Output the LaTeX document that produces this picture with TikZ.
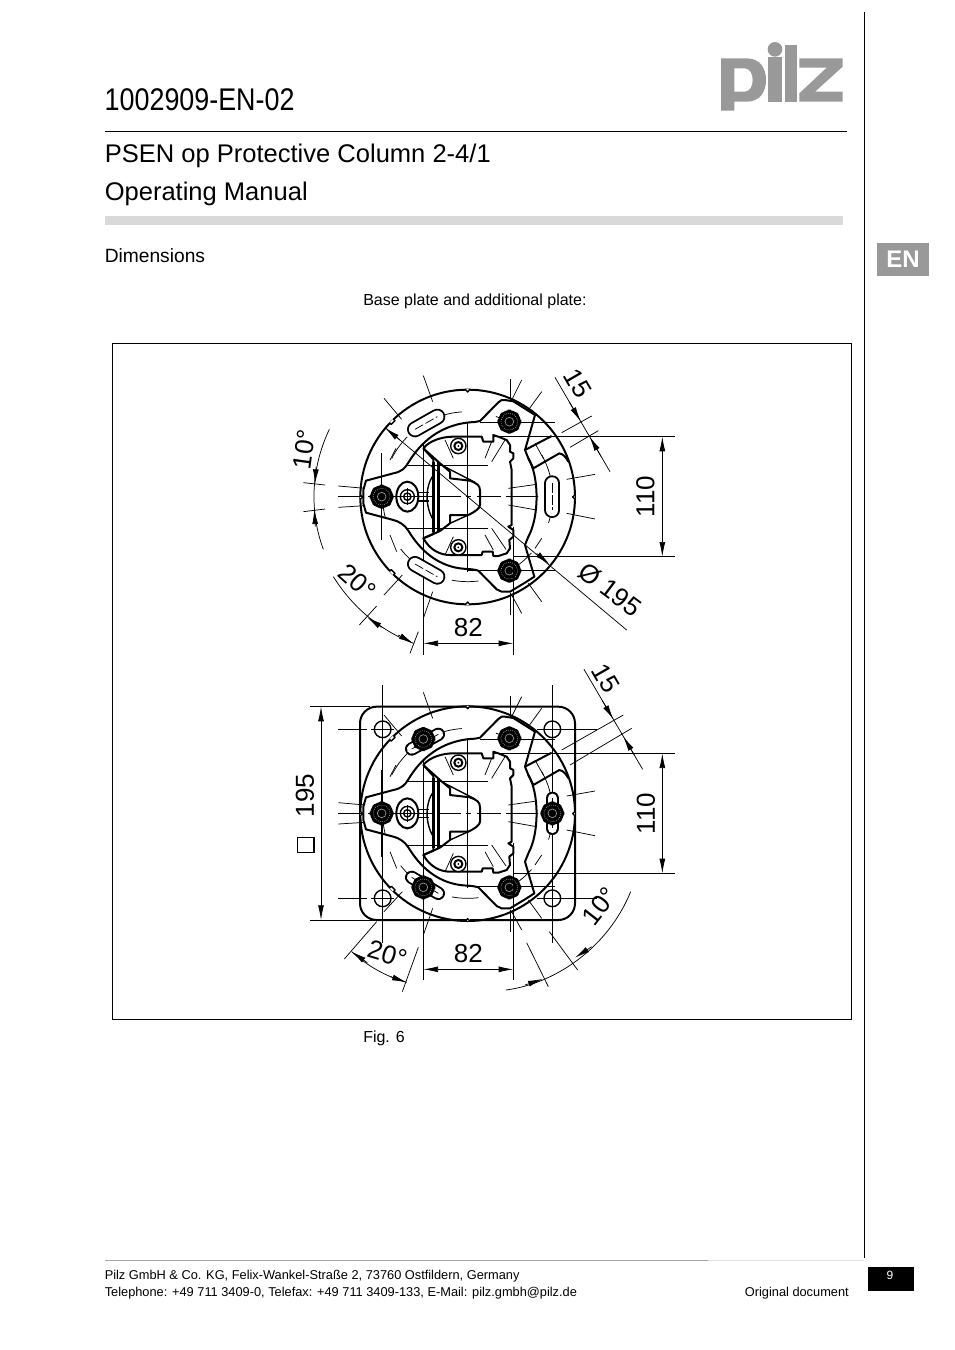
\documentclass[tikz,border=0pt]{standalone}
\usepackage{fontspec}
\setmainfont{Liberation Sans}
\usetikzlibrary{arrows.meta}
\definecolor{logogray}{HTML}{999999}
\definecolor{bargray}{HTML}{D9D9D9}
\tikzset{
  thickl/.style={line width=1.5pt,line join=round},
  medl/.style={line width=1.05pt,line join=round},
  thinl/.style={line width=.55pt},
  dashl/.style={line width=.6pt,dash pattern=on 18pt off 4pt on 4pt off 4pt},
  tip/.style={thinl,-{Latex[length=11pt,width=4.4pt]}},
  dim/.style={thinl,{Latex[length=11pt,width=4.4pt]}-{Latex[length=11pt,width=4.4pt]}},
  dimtext/.style={font=\fontsize{19.5pt}{21pt}\selectfont,inner sep=0pt},
  body/.style={inner sep=0pt,anchor=base west},
}
\newcommand\pilzbolt[2]{%
  \fill[black,rounded corners=5pt] (#1-36,#2-14) -- (#1-14,#2-36) -- (#1+14,#2-36) -- (#1+36,#2-14) -- (#1+36,#2+14) -- (#1+14,#2+36) -- (#1-14,#2+36) -- (#1-36,#2+14) -- cycle;
  \draw[gray!60,line width=.5pt,densely dotted] (#1,#2) circle (25);
  \draw[gray!80,line width=.5pt] (#1,#2) circle (13);
  \fill[black] (#1,#2) circle (4);
}
\newcommand\pilzscrew[2]{%
  \draw[medl,fill=white] (#1,#2) circle (23);
  \draw[line width=1.5pt] (#1,#2) circle (12);
  \fill[black] (#1,#2) circle (3);
}
\newcommand\pilzslot[5]{%
  \draw[line width=#5,line cap=round,black] (#1,#2) -- (#3,#4);
  \draw[line width=#5-2.8pt,line cap=round,white] (#1,#2) -- (#3,#4);
  \draw[thinl,dash pattern=on 7pt off 2pt] (#1,#2) -- (#3,#4);
}
\newcommand\pilzcore{%
 \begin{scope}[shift={(-565,-410)}]
  % outer ring
  \draw[thickl] (563,411) circle (322);
  \foreach \a in {0,90,180,270}{
    \begin{scope}[shift={(563,411)},rotate=\a]
      \fill[white] (323,-6) rectangle (317,6);
      \draw[medl] (323,-7) -- (315,0) -- (323,7);
    \end{scope}}
  \foreach \a in {135,225}{
    \begin{scope}[shift={(563,411)},rotate=\a]
      \fill[white] (324,-7) rectangle (316,7);
      \draw[medl] (323,-8) -- (316,-8) -- (316,8) -- (323,8);
    \end{scope}}
  % hidden circle
  \draw[thinl,dash pattern=on 20pt off 26pt] (563,410) circle (255);
  % centre lines
  \draw[dashl] (175,410) -- (775,410);
  \draw[thinl] (563,185) -- (563,635);
  \draw[thinl] (175,410) -- (250,410);
  \draw[thinl,dash pattern=on 18pt off 5pt] (380,315) -- (625,315);
  \draw[thinl,dash pattern=on 18pt off 5pt] (380,505) -- (625,505);
  \draw[thinl] (305,280) -- (305,540);
  \draw[thinl] (600,188) -- (825,188);
  \draw[thinl] (560,630) -- (825,630);
  % mounting plate
  \draw[thickl] (258,362) -- (340,340) .. controls (365,335) and (375,325) .. (385,308)
     .. controls (420,250) and (480,190) .. (585,186) -- (600,183) -- (655,127)
     .. controls (662,120) and (668,118) .. (675,120) -- (700,124) -- (765,165)
     -- (735,270) -- (745,295) .. controls (778,350) and (778,470) .. (745,530)
     -- (735,555) -- (763,650) -- (735,668) -- (690,695) -- (665,695) -- (650,688)
     -- (595,632) .. controls (570,625) and (560,628) .. (540,625)
     .. controls (470,615) and (420,570) .. (385,512)
     .. controls (375,495) and (355,483) .. (340,480) -- (258,458) -- (250,430) -- (250,390) -- cycle;
  % side bracket
  \draw[thickl] (735,270) -- (815,228);
  \draw[thickl] (745,295) -- (760,325) -- (838,280) .. controls (850,282) and (858,292) .. (865,305);
  \draw[thinl] (765,250) -- (790,295);
  % device housing
  \draw[thickl,fill=white] (430,265) .. controls (450,240) and (490,230) .. (520,230) -- (605,230)
     -- (610,245) -- (640,245) -- (640,225) -- (655,230) -- (680,240) -- (690,255)
     -- (690,275) -- (700,280) -- (700,295) -- (690,305) -- (695,330) -- (695,495)
     -- (685,500) -- (700,510) -- (700,530) -- (688,540) -- (690,565) -- (680,580)
     -- (655,588) -- (640,588) -- (638,575) -- (608,575) -- (605,585) -- (510,585)
     .. controls (480,585) and (450,570) .. (430,535) -- (460,522)
     -- (460,298) -- cycle;
  \draw[thinl] (380,315) -- (625,315);
  \draw[thinl] (380,505) -- (625,505);
  \draw[thinl] (430,250) -- (430,535);
  \draw[dashl] (470,410) -- (690,410);
  \draw[thinl] (563,230) -- (563,590);
  % housing inner
  \draw[medl] (460,345) .. controls (435,380) and (435,440) .. (460,480);
  \draw[thickl] (430,265) -- (480,310);
  \draw[thickl] (430,535) -- (480,513);
  \draw[line width=1.8pt] (460,305) -- (460,515);
  \draw[line width=1.8pt] (475,305) -- (475,515);
  \draw[thickl] (480,310) -- (510,335) -- (510,355) -- (570,362)
     .. controls (590,370) and (600,375) .. (600,392) -- (600,435)
     .. controls (600,445) and (585,455) .. (565,465) -- (510,465) -- (510,490) -- (480,513);
  \draw[medl] (490,318) -- (585,367);
  \draw[medl] (510,490) -- (565,465);
  % radial ticks
  \foreach \x/\y/\u/\v in {430/47/458/125,312/115/365/178,690/57/690/125,725/60/695/120,
     785/95/745/150,860/358/945/343,860/460/945/477,690/700/690/765,725/760/695/705,
     785/725/745/670,312/705/367/645,430/775/458/695,175/378/255/385,175/442/255/437,
     495/240/520/295,635/245/615/295,675/240/635/305,495/585/520/530,615/525/640/570,
     635/505/678/568,685/385/770/373,685/435/770/450,690/410/775/410,
     330/300/348/265,350/575/330/525,785/535/765/565}{
    \draw[thinl] (\x,\y) -- (\u,\v);}
  % fasteners
  \pilzbolt{688}{185}
  \pilzbolt{688}{632}
  \pilzbolt{305}{410}
  \pilzscrew{535}{258}
  \pilzscrew{535}{562}
  \draw[thickl,fill=white] (382,410) ellipse (33 and 45);
  \draw[medl] (382,410) circle (21);
  \draw[medl] (382,410) circle (11);
  \draw[thinl] (345,410) -- (430,410);
  \draw[medl] (412,398) -- (447,398);
  \draw[medl] (412,423) -- (447,423);
  \draw[thinl] (382,385) -- (382,435);
  \draw[thinl] (430,265) -- (430,775);
 \end{scope}%
}
\begin{document}
\begin{tikzpicture}[x=.75pt,y=-.75pt]
\useasboundingbox (0,0) rectangle (954,1350);
\fill[white] (0,0) rectangle (954,1350);
% page furniture
\draw[line width=1.1pt] (864.5,12) -- (864.5,1258);
\draw[line width=.8pt] (105,131.5) -- (847,131.5);
\fill[bargray] (105,216) rectangle (843,225);
\draw[line width=.5pt,gray!70] (105,1260.5) -- (708,1260.5);
\draw[line width=.5pt,gray!25] (708,1260.5) -- (864,1260.5);
\node[body,xscale=.858,font=\fontsize{23.5pt}{26pt}\selectfont] (title) at (104.5,110) {1002909-EN-02};
\node[body,font=\fontsize{19.15pt}{24pt}\selectfont] (prod) at (104.5,162) {PSEN op Protective Column 2-4/1};
\node[body,font=\fontsize{19.15pt}{24pt}\selectfont] (manual) at (104.5,200) {Operating Manual};
\node[body,font=\fontsize{14.4pt}{18pt}\selectfont] (dims) at (104.5,262) {Dimensions};
\node[body,font=\fontsize{12pt}{15pt}\selectfont] (baseplate) at (363,305) {Base plate and additional plate:};
\node[body,font=\fontsize{12pt}{15pt}\selectfont] (fig) at (363,1042) {Fig. 6};
\node[body,font=\fontsize{9.6pt}{12pt}\selectfont] (foot1) at (104.5,1279) {Pilz GmbH \& Co. KG, Felix-Wankel-Straße 2, 73760 Ostfildern, Germany};
\node[body,font=\fontsize{9.6pt}{12pt}\selectfont] (foot2) at (104.5,1296) {Telephone: +49 711 3409-0, Telefax: +49 711 3409-133, E-Mail: pilz.gmbh@pilz.de};
\node[inner sep=0pt,anchor=base east,font=\fontsize{9.6pt}{12pt}\selectfont] (orig) at (849,1296) {Original document};
\fill[black] (868,1267) rectangle (914,1291);
\node[inner sep=0pt,anchor=base,text=white,font=\fontsize{9pt}{11pt}\selectfont] (pageno) at (890,1279) {9};
\fill[logogray] (877,243) rectangle (929,276);
\node[inner sep=0pt,text=white,font=\bfseries\fontsize{18pt}{22pt}\selectfont] (en) at (903,259.5) {EN};
% logo
\begin{scope}[shift={(700,20)},x=.25pt,y=-.25pt]
  \fill[logogray,even odd rule] (63,272) -- (63,115) -- (140,115) .. controls (180,115) and (198,145) .. (198,180)
    .. controls (198,215) and (180,245) .. (140,245) -- (103,245) -- (103,272) -- cycle
    (103,145) -- (103,215) -- (135,215) .. controls (150,215) and (158,198) .. (158,180)
    .. controls (158,162) and (150,145) .. (135,145) -- cycle;
  \fill[logogray] (205,112) rectangle (245,245);
  \fill[logogray] (225,88) circle (22);
  \fill[logogray] (255,75) rectangle (291,245);
  \fill[logogray] (298,115) -- (428,115) -- (428,140) -- (345,215) -- (428,215) -- (428,245)
    -- (298,245) -- (298,220) -- (380,143) -- (298,143) -- cycle;
\end{scope}
% frame
\draw[line width=.6pt] (112.5,343.5) rectangle (851.5,1019.5);
% TOP VIEW
\begin{scope}[shift={(280,360)},x=.25pt,y=-.25pt]
  \begin{scope}[shift={(565,410)}]\pilzcore\end{scope}
  \pilzslot{405}{208}{472}{170}{12pt}
  \pilzslot{405}{612}{472}{650}{12pt}
  \pilzslot{817}{370}{817}{450}{12pt}
  % 15
  \draw[thinl] (825,52) -- (990,335);
  \draw[tip] (868,126) -- (902,184);
  \draw[tip] (963,289) -- (929,230);
  \draw[thinl] (845,218) -- (935,168);
  \draw[thinl] (870,262) -- (955,212);
  \node[dimtext,rotate=-60] (t15a) at (893,70) {15};
  % 110
  \draw[thinl] (640,230) -- (1185,230);
  \draw[thinl] (700,590) -- (1185,590);
  \draw[dim] (1147,230) -- (1147,590);
  \node[dimtext,rotate=90] (t110a) at (1096,410) {110};
  % 82
  \draw[thinl] (430,775) -- (430,885);
  \draw[thinl] (700,500) -- (700,885);
  \draw[dim] (430,850) -- (700,850);
  \node[dimtext] (t82a) at (565,802) {82};
  % dia 195
  \draw[thinl] (318,205) -- (1040,810);
  \draw[tip] (360,240) -- (316,204);
  \draw[tip] (770,580) -- (808,612);
  \node[dimtext,rotate=-37] (tdia) at (990,688) {Ø 195};
  % 10 deg
  \draw[thinl] (148,208) .. controls (90,330) and (90,460) .. (130,568);
  \draw[tip] (108,320) -- (105,372);
  \draw[tip] (106,500) -- (103,448);
  \draw[thinl] (70,368) -- (135,375);
  \draw[thinl] (70,455) -- (135,447);
  \node[dimtext,rotate=82] (t10a) at (72,268) {10°};
  % 20 deg
  \draw[thinl] (160,650) .. controls (220,745) and (300,810) .. (400,850);
  \draw[tip] (305,802) -- (262,772);
  \draw[tip] (355,825) -- (400,850);
  \draw[thinl] (238,795) -- (290,738);
  \draw[thinl] (390,880) -- (415,815);
  \node[dimtext,rotate=-42] (t20a) at (232,665) {20°};
\end{scope}
% BOTTOM VIEW
\begin{scope}[shift={(280,660)},x=.25pt,y=-.25pt]
  \draw[thickl] (240,190) arc (180:270:50) -- (835,140) arc (270:360:50) -- (885,730) arc (0:90:50) -- (290,780) arc (90:180:50) -- cycle;
  \foreach \x in {308,817}{\draw[thinl] (\x,75) -- (\x,850);}
  \foreach \y in {208,715}{\draw[thinl] (175,\y) -- (260,\y);\draw[thinl] (770,\y) -- (950,\y);}
  \begin{scope}[shift={(565,460)}]\pilzcore\end{scope}
  \foreach \x/\y in {308/208,817/208,308/715,817/715}{
    \draw[medl] (\x,\y) circle (25);
    \draw[thinl] (\x-34,\y) -- (\x+34,\y);
    \draw[thinl] (\x,\y-34) -- (\x,\y+34);}
  \pilzslot{395}{267}{475}{223}{10pt}
  \pilzslot{395}{652}{475}{700}{10pt}
  \pilzslot{817}{415}{817}{505}{10pt}
  \pilzbolt{430}{237}
  \pilzbolt{430}{682}
  \pilzbolt{817}{460}
  % square 195
  \draw[thinl] (90,140) -- (270,140);
  \draw[thinl] (90,780) -- (290,780);
  \draw[dim] (123,140) -- (123,780);
  \node[dimtext,rotate=90] (t195) at (75,407) {195};
  \draw[line width=1pt] (52,533) rectangle (102,578);
  % 15
  \draw[thinl] (912,28) -- (1088,328);
  \draw[tip] (967,122) -- (1000,178);
  \draw[tip] (1063,285) -- (1030,230);
  \draw[thinl] (845,270) -- (1030,165);
  \draw[thinl] (870,315) -- (1055,205);
  \node[dimtext,rotate=-60] (t15b) at (977,55) {15};
  % 110
  \draw[thinl] (640,280) -- (1185,280);
  \draw[thinl] (700,640) -- (1185,640);
  \draw[dim] (1147,280) -- (1147,640);
  \node[dimtext,rotate=90] (t110b) at (1098,460) {110};
  % 82
  \draw[thinl] (430,825) -- (430,960);
  \draw[thinl] (700,550) -- (700,960);
  \draw[dim] (430,928) -- (700,928);
  \node[dimtext] (t82b) at (565,880) {82};
  % 10 deg
  \draw[thinl] (678,990) .. controls (830,970) and (985,860) .. (1052,695);
  \draw[tip] (735,975) -- (788,957);
  \draw[tip] (935,860) -- (885,893);
  \draw[thinl] (740,848) -- (805,980);
  \draw[thinl] (808,815) -- (893,930);
  \node[dimtext,rotate=52] (t10b) at (960,738) {10°};
  % 20 deg
  \draw[thinl] (215,875) .. controls (265,920) and (320,950) .. (380,967);
  \draw[tip] (262,908) -- (215,875);
  \draw[tip] (332,950) -- (380,967);
  \draw[thinl] (193,897) -- (290,785);
  \draw[thinl] (367,995) -- (415,862);
  \node[dimtext,rotate=-17] (t20b) at (322,882) {20°};
\end{scope}
\end{tikzpicture}
\end{document}
